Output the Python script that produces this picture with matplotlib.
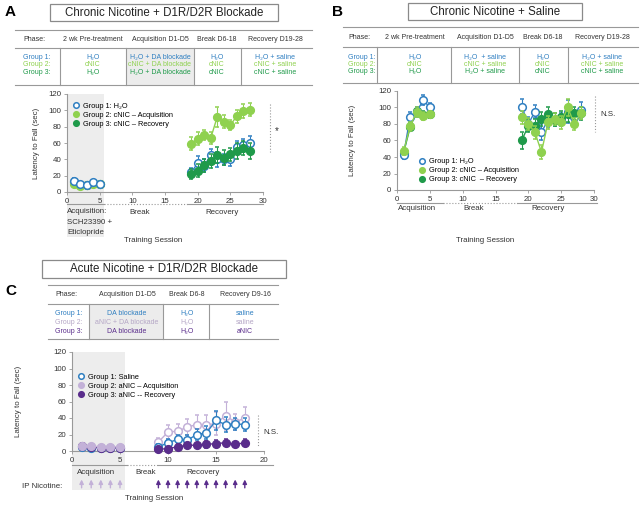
import matplotlib
matplotlib.use('Agg')
import matplotlib.pyplot as plt
from matplotlib.lines import Line2D
from matplotlib.patches import Rectangle
from matplotlib.transforms import blended_transform_factory

plt.rcParams['font.family'] = ['Liberation Sans', 'DejaVu Sans']

W, H = 640, 505

BLUE = '#2f7fc1'
LGREEN = '#8fd14f'
DGREEN = '#1f9a4a'
LPURP = '#c3b1d8'
DPURP = '#5a2d8c'
GRAY = '#999999'
TXT = '#333333'

# ---------------- data ----------------
acq_days = [1, 2, 3, 4, 5]
rec_days_ab = [19, 20, 21, 22, 23, 24, 25, 26, 27, 28]
rec_days_c = [9, 10, 11, 12, 13, 14, 15, 16, 17, 18]

# Panel A (chronic nicotine + D1R/D2R blockade)
a_g1_acq = [14, 10, 8, 12, 10]
a_g2_acq = [10, 7, 9, 10, 10]
a_g3_acq = [12, 9, 9, 11, 10]
a_g1_rec = [24, 35, 32, 45, 40, 40, 40, 55, 57, 60]
a_g2_rec = [59, 65, 70, 66, 92, 86, 82, 93, 99, 101]
a_g3_rec = [22, 26, 33, 38, 45, 42, 46, 50, 54, 50]
a_g1_acq_err = [3, 2, 2, 2, 2]
a_g2_acq_err = [2, 2, 2, 2, 2]
a_g3_acq_err = [2, 2, 2, 2, 2]
a_g1_rec_err = [6, 9, 8, 8, 9, 7, 8, 8, 8, 9]
a_g2_rec_err = [8, 8, 6, 7, 12, 8, 6, 8, 9, 8]
a_g3_rec_err = [6, 8, 8, 8, 10, 9, 8, 10, 9, 10]

# Panel B (chronic nicotine + saline)
b_g1_acq = [42, 89, 95, 109, 100]
b_g2_acq = [47, 77, 95, 90, 92]
b_g3_acq = [45, 76, 96, 91, 92]
b_g1_rec = [101, 80, 95, 70, 85, 85, 85, 95, 88, 97]
b_g2_rec = [88, 80, 70, 46, 82, 86, 82, 100, 80, 93]
b_g3_rec = [60, 78, 78, 86, 92, 85, 88, 92, 93, 93]
b_g1_acq_err = [5, 6, 6, 6, 6]
b_g2_acq_err = [5, 6, 6, 5, 4]
b_g3_acq_err = [4, 5, 5, 5, 5]
b_g1_rec_err = [9, 8, 8, 10, 9, 8, 8, 14, 8, 10]
b_g2_rec_err = [8, 7, 8, 8, 8, 7, 8, 10, 7, 7]
b_g3_rec_err = [10, 8, 8, 9, 9, 8, 8, 9, 8, 8]

# Panel C (acute nicotine + D1R/D2R blockade)
c_g1_acq = [5, 4, 4, 4, 4]
c_g2_acq = [6, 6, 5, 5, 5]
c_g3_acq = [6, 5, 4, 4, 4]
c_g1_rec = [5, 10, 14, 13, 20, 22, 37, 32, 33, 32]
c_g2_rec = [11, 23, 24, 29, 32, 32, 33, 43, 35, 40]
c_g3_rec = [2, 3, 5, 7, 7, 8, 9, 10, 8, 10]
c_g1_acq_err = [2, 2, 2, 2, 2]
c_g2_acq_err = [2, 2, 2, 2, 2]
c_g3_acq_err = [2, 2, 2, 2, 2]
c_g1_rec_err = [3, 5, 5, 6, 7, 8, 12, 9, 7, 8]
c_g2_rec_err = [5, 8, 9, 10, 12, 12, 14, 17, 10, 13]
c_g3_rec_err = [2, 2, 3, 3, 3, 4, 4, 4, 3, 4]

# tables
head_ab = ['2 wk Pre-treatment', 'Acquisition D1-D5', 'Break D6-18', 'Recovery D19-28']
rows_a = [['H\u2082O', 'H\u2082O + DA blockade', 'H\u2082O', 'H\u2082O + saline'],
          ['cNIC', 'cNIC + DA blockade', 'cNIC', 'cNIC + saline'],
          ['H\u2082O', 'H\u2082O + DA blockade', 'cNIC', 'cNIC + saline']]
rows_b = [['H\u2082O', 'H\u2082O  + saline', 'H\u2082O', 'H\u2082O + saline'],
          ['cNIC', 'cNIC + saline', 'cNIC', 'cNIC + saline'],
          ['H\u2082O', 'H\u2082O + saline', 'cNIC', 'cNIC + saline']]
head_c = ['Acquisition D1-D5', 'Break D6-8', 'Recovery D9-16']
rows_c = [['DA blockade', 'H\u2082O', 'saline'],
          ['aNIC + DA blockade', 'H\u2082O', 'saline'],
          ['DA blockade', 'H\u2082O', 'aNIC']]
group_names = ['Group 1:', 'Group 2:', 'Group 3:']

legend_a = ['Group 1: H\u2082O', 'Group 2: cNIC \u2013 Acquisition', 'Group 3: cNIC \u2013 Recovery']
legend_b = ['Group 1: H\u2082O', 'Group 2: cNIC \u2013 Acquisition', 'Group 3: cNIC  \u2013 Recovery']
legend_c = ['Group 1: Saline', 'Group 2: aNIC \u2013 Acquisition', 'Group 3: aNIC -- Recovery']

fig = plt.figure(figsize=(6.4, 5.05), dpi=100)


def fx(x):
    return x / W


def fy(y):
    return 1 - y / H


def ftext(x, y, s, **kw):
    kw.setdefault('fontsize', 5)
    kw.setdefault('color', TXT)
    kw.setdefault('va', 'center')
    fig.text(fx(x), fy(y), s, **kw)


def btext(x, y, s, **kw):
    # baseline aligned so that subscripts do not shift the row
    ftext(x, y + 2, s, va='baseline', **kw)


def fline(x0, x1, y0, y1, **kw):
    kw.setdefault('color', GRAY)
    kw.setdefault('lw', 0.8)
    fig.add_artist(Line2D([fx(x0), fx(x1)], [fy(y0), fy(y1)], transform=fig.transFigure, **kw))


def frect(x0, y0, x1, y1, **kw):
    fig.add_artist(Rectangle((fx(x0), fy(y1)), fx(x1) - fx(x0), fy(y0) - fy(y1),
                             transform=fig.transFigure, **kw))


def title_box(x0, y0, x1, y1, s):
    frect(x0, y0, x1, y1, fc='white', ec='#8a8a8a', lw=0.9)
    ftext((x0 + x1) / 2, (y0 + y1) / 2 + 0.5, s, fontsize=8.3, ha='center', color='#222222')


def draw_table(x0, x1, ytop, yhead, ybot, vlines, cols, header, rows, colors, lab_x, row_y,
               shade=None):
    if shade:
        frect(shade[0], yhead, shade[1], ybot, fc='#ececec', ec='none')
    for y in (ytop, yhead, ybot):
        fline(x0, x1, y, y)
    for v in vlines:
        fline(v, v, yhead, ybot)
    hy = (ytop + yhead) / 2
    btext(lab_x, hy, 'Phase:', ha='left')
    for cx, h in zip(cols, header):
        btext(cx, hy, h, ha='center')
    for ry, name, cells, col in zip(row_y, group_names, rows, colors):
        btext(lab_x, ry, name, ha='left', color=col)
        for cx, c in zip(cols, cells):
            btext(cx, ry, c, ha='center', color=col)


def make_axes(l, t, r, b, xmax, xticks, ylab_x):
    ax = fig.add_axes([fx(l), fy(b), fx(r) - fx(l), fy(t) - fy(b)])
    ax.set_xlim(0, xmax)
    ax.set_ylim(0, 120)
    ax.set_xticks(xticks)
    ax.set_yticks(range(0, 121, 20))
    for s in ('top', 'right'):
        ax.spines[s].set_visible(False)
    for s in ('left', 'bottom'):
        ax.spines[s].set_color(GRAY)
        ax.spines[s].set_linewidth(0.8)
    ax.tick_params(length=2, width=0.6, color=GRAY, labelsize=5.7, labelcolor=TXT, pad=2)
    ax.patch.set_alpha(0)
    ax.set_ylabel('Latency to Fall (sec)', fontsize=5.7, color=TXT)
    ax.yaxis.set_label_coords((ylab_x - l) / (r - l), 0.5)
    return ax


def series(ax, days, vals, errs, color, face, z, ms=5.5):
    ax.errorbar(days, vals, yerr=errs, color=color, lw=1, marker='o', ms=ms, mfc=face, mec=color,
                mew=1.1, ecolor=color, elinewidth=0.8, capsize=1.3, capthick=0.8, zorder=z,
                clip_on=False)


def shade(ax, x1, ybottom):
    tr = blended_transform_factory(ax.transData, ax.transAxes)
    ax.add_patch(Rectangle((0, ybottom), x1, 1 - ybottom, transform=tr, fc='#ededed', ec='none',
                           zorder=0, clip_on=False))


def legend(ax, labels, styles, anchor):
    handles = [Line2D([], [], ls='none', marker='o', ms=4, mfc=f, mec=c, mew=1.1) for c, f in styles]
    ax.legend(handles, labels, loc='upper left', bbox_to_anchor=anchor, frameon=False, fontsize=5.3,
              handlelength=0.8, handletextpad=0.6, labelspacing=0.25, borderpad=0, borderaxespad=0)


# ---------------- Panel A ----------------
ftext(5, 12, 'A', fontsize=11, fontweight='bold', color='black', ha='left')
title_box(50, 4, 278, 21, 'Chronic Nicotine + D1R/D2R Blockade')
cols_a = [93, 160, 217, 275]
draw_table(15, 312, 30, 48, 85, [60, 126, 194, 241], cols_a, head_ab, rows_a,
           [BLUE, LGREEN, DGREEN], 23, [57, 64.5, 72], shade=(126, 194))

axA = make_axes(67, 94, 263, 192, 30, range(0, 31, 5), 40)
shade(axA, 5.6, -0.46)
sty_a = [(BLUE, 'white'), (LGREEN, LGREEN), (DGREEN, DGREEN)]
series(axA, acq_days, a_g3_acq, a_g3_acq_err, DGREEN, DGREEN, 3)
series(axA, acq_days, a_g2_acq, a_g2_acq_err, LGREEN, LGREEN, 4)
series(axA, acq_days, a_g1_acq, a_g1_acq_err, BLUE, 'white', 5)
series(axA, rec_days_ab, a_g2_rec, a_g2_rec_err, LGREEN, LGREEN, 3)
series(axA, rec_days_ab, a_g1_rec, a_g1_rec_err, BLUE, 'white', 4)
series(axA, rec_days_ab, a_g3_rec, a_g3_rec_err, DGREEN, DGREEN, 5)
legend(axA, legend_a, sty_a, (0.03, 0.91))

fline(67, 104, 204, 204)
fline(104, 187, 204, 204, ls=':')
fline(187, 263, 204, 204)
ftext(67, 212, 'Acquisition:', ha='left', fontsize=5.7)
ftext(67, 222, 'SCH23390 +', ha='left', fontsize=5.7)
ftext(67, 232, 'Eticlopride', ha='left', fontsize=5.7)
ftext(140, 213, 'Break', ha='center', fontsize=5.7)
ftext(222, 213, 'Recovery', ha='center', fontsize=5.7)
ftext(153, 240, 'Training Session', ha='center', fontsize=5.7)
fline(270, 270, 104, 152, ls=':')
ftext(277, 131, '*', ha='center', fontsize=7)

# ---------------- Panel B ----------------
ftext(332, 12, 'B', fontsize=11, fontweight='bold', color='black', ha='left')
title_box(408, 3, 582, 20, 'Chronic Nicotine + Saline')
cols_b = [415, 485, 543, 602]
draw_table(343, 638, 27, 47, 83, [377, 451, 519, 568], cols_b, head_ab, rows_b,
           [BLUE, LGREEN, DGREEN], 348, [57, 64, 71])

axB = make_axes(397, 91, 594, 190, 30, range(0, 31, 5), 356)
series(axB, acq_days, b_g3_acq, b_g3_acq_err, DGREEN, DGREEN, 3)
series(axB, acq_days, b_g1_acq, b_g1_acq_err, BLUE, 'white', 4)
series(axB, acq_days, b_g2_acq, b_g2_acq_err, LGREEN, LGREEN, 5)
series(axB, rec_days_ab, b_g1_rec, b_g1_rec_err, BLUE, 'white', 3)
series(axB, rec_days_ab, b_g3_rec, b_g3_rec_err, DGREEN, DGREEN, 4)
series(axB, rec_days_ab, b_g2_rec, b_g2_rec_err, LGREEN, LGREEN, 5)
legend(axB, legend_b, sty_a, (0.11, 0.32))

fline(397, 443, 203, 203)
fline(443, 517, 203, 203, ls=':')
fline(517, 597, 203, 203)
ftext(417, 209, 'Acquisition', ha='center', fontsize=5.7)
ftext(474, 209, 'Break', ha='center', fontsize=5.7)
ftext(548, 209, 'Recovery', ha='center', fontsize=5.7)
ftext(485, 241, 'Training Session', ha='center', fontsize=5.7)
fline(595, 595, 96, 132, ls=':')
ftext(600, 115, 'N.S.', ha='left', fontsize=5.7)

# ---------------- Panel C ----------------
ftext(5, 291, 'C', fontsize=11, fontweight='bold', color='black', ha='left')
title_box(42, 260, 286, 278, 'Acute Nicotine + D1R/D2R Blockade')
cols_c = [127, 187, 245]
draw_table(48, 278, 285, 304, 339, [89, 163, 209], cols_c, head_c, rows_c,
           [BLUE, '#b5a7c6', DPURP], 55, [313, 322, 331], shade=(89, 163))

axC = make_axes(72, 352, 264, 451, 20, range(0, 21, 5), 22)
shade(axC, 5.5, -0.39)
sty_c = [(BLUE, 'white'), (LPURP, LPURP), (DPURP, DPURP)]
series(axC, acq_days, c_g1_acq, c_g1_acq_err, BLUE, 'white', 3)
series(axC, acq_days, c_g3_acq, c_g3_acq_err, DPURP, DPURP, 4)
series(axC, acq_days, c_g2_acq, c_g2_acq_err, LPURP, LPURP, 5)
series(axC, rec_days_c, c_g2_rec, c_g2_rec_err, LPURP, 'white', 3)
series(axC, rec_days_c, c_g1_rec, c_g1_rec_err, BLUE, 'white', 4)
series(axC, rec_days_c, c_g3_rec, c_g3_rec_err, DPURP, DPURP, 5)
legend(axC, legend_c, sty_c, (0.03, 0.78))

fline(72, 127, 465, 465)
fline(127, 158, 465, 465, ls=':')
fline(158, 273, 465, 465)
ftext(96, 472, 'Acquisition', ha='center', fontsize=5.7)
ftext(146, 472, 'Break', ha='center', fontsize=5.7)
ftext(203, 472, 'Recovery', ha='center', fontsize=5.7)
ftext(42, 487, 'IP Nicotine:', ha='center', fontsize=5.7)
ftext(154, 499, 'Training Session', ha='center', fontsize=5.7)
fline(258, 258, 415, 447, ls=':')
ftext(263, 432, 'N.S.', ha='left', fontsize=5.7)

# IP nicotine injection arrows
for days, col in ((acq_days, LPURP), (rec_days_c, DPURP)):
    for d in days:
        axC.annotate('', xy=(d, -0.26), xytext=(d, -0.40), xycoords=('data', 'axes fraction'),
                     arrowprops=dict(arrowstyle='-|>', color=col, lw=1, mutation_scale=6),
                     annotation_clip=False)

fig.savefig('out.png', dpi=100)
